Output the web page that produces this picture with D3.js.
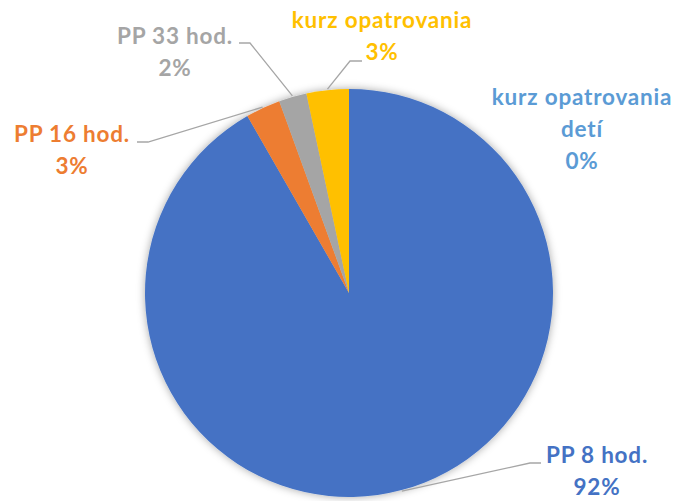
<!DOCTYPE html>
<meta charset="utf-8">
<style>
  body { margin: 0; background: #fff; }
  text { font-family: Lato, "Open Sans", sans-serif; font-weight: bold; }
</style>
<body>
<div id="chart"></div>
<script src="https://d3js.org/d3.v7.min.js"></script>
<script>
// data
var categories = ["PP 8 hod.", "PP 16 hod.", "PP 33 hod.", "kurz opatrovania", "kurz opatrovania detí"];
var values = [91.7, 2.75, 2.2, 3.35, 0];
var pctLabels = ["92%", "3%", "2%", "3%", "0%"];

var colors = ["#4472C4", "#ED7D31", "#A5A5A5", "#FFC000", "#5B9BD5"];

var width = 681, height = 501;
var cx = 349, cy = 293, radius = 204;

// label centre x, first baseline, and the leader elbow
var labelLayout = [
  { x: 597, y: 463, lines: ["PP 8 hod."], elbow: [[530, 463], [541, 463]] },
  { x: 72, y: 142, lines: ["PP 16 hod."], elbow: [[148, 142], [137, 142]] },
  { x: 175, y: 44, lines: ["PP 33 hod."], elbow: [[250, 43], [239, 43]] },
  { x: 382, y: 28, lines: ["kurz opatrovania"], elbow: [[350, 61], [362, 61]] },
  { x: 582, y: 105, lines: ["kurz opatrovania", "detí"], elbow: null }
];
var lineGap = 32;

var svg = d3.select("#chart").append("svg")
    .attr("width", width)
    .attr("height", height);

var defs = svg.append("defs");
var f = defs.append("filter").attr("id", "shadow")
    .attr("x", "-20%").attr("y", "-20%").attr("width", "140%").attr("height", "140%");
f.append("feDropShadow")
    .attr("dx", 0).attr("dy", 0)
    .attr("stdDeviation", 4)
    .attr("flood-color", "#000")
    .attr("flood-opacity", 0.35);

var pie = d3.pie().sort(null).value(function(d) { return d; });
var arcs = pie(values);

var arc = d3.arc().innerRadius(0).outerRadius(radius);
var edge = d3.arc().innerRadius(radius + 1).outerRadius(radius + 1);

var g = svg.append("g").attr("transform", "translate(" + cx + "," + cy + ")");

g.append("g").attr("filter", "url(#shadow)")
  .selectAll("path")
  .data(arcs)
  .enter().append("path")
    .attr("d", arc)
    .attr("fill", function(d, i) { return colors[i]; });

// leader lines
arcs.forEach(function(d, i) {
  var L = labelLayout[i];
  if (!L.elbow) return;
  var p = edge.centroid(d);
  var pts = [[cx + p[0], cy + p[1]]].concat(L.elbow);
  svg.append("polyline")
    .attr("points", pts.map(function(q) { return q.join(","); }).join(" "))
    .attr("fill", "none")
    .attr("stroke", "#A6A6A6")
    .attr("stroke-width", 1.3);
});

// labels
categories.forEach(function(c, i) {
  var L = labelLayout[i];
  var t = svg.append("text")
    .attr("text-anchor", "middle")
    .attr("font-size", 22.5)
    .attr("letter-spacing", 0.8)
    .attr("fill", colors[i]);
  var lines = L.lines.concat([pctLabels[i]]);
  lines.forEach(function(s, j) {
    t.append("tspan")
      .attr("x", L.x)
      .attr("y", L.y + j * lineGap)
      .text(s);
  });
});
</script>
</body>
